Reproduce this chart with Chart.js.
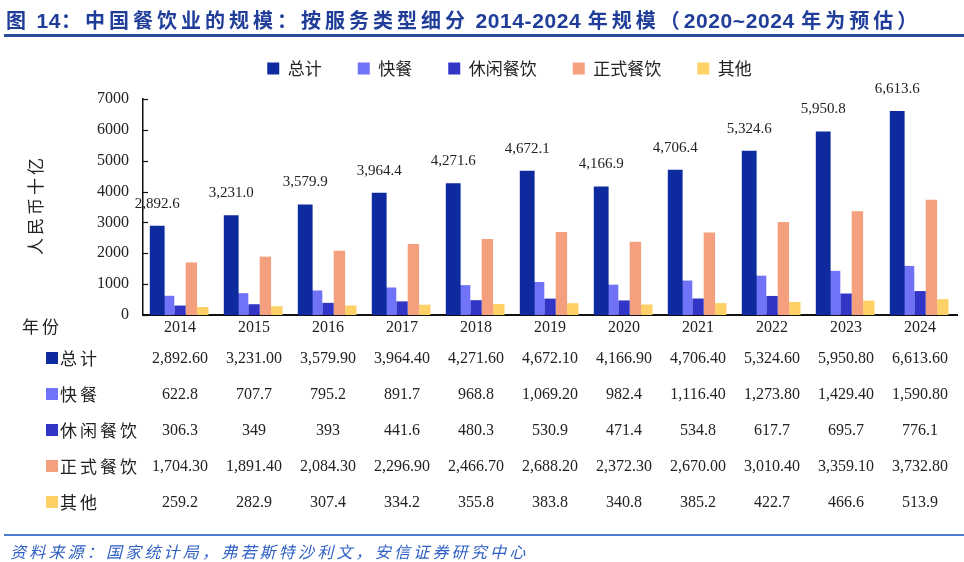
<!DOCTYPE html>
<html lang="zh">
<head>
<meta charset="UTF-8">
<title>中国餐饮业的规模</title>
<script src="https://cdn.jsdelivr.net/npm/chart.js"></script>
<style>
  body { margin: 0; background: #fff; }
  .tela { position: relative; width: 964px; height: 562px; overflow: hidden; }
  .titulo { position: absolute; left: 6px; top: 5px; font: bold 20px "Noto Sans CJK SC", sans-serif; color: #1f3d99; letter-spacing: 4px; white-space: nowrap; }
  .titulo .n { font: bold 21px "Liberation Sans", sans-serif; letter-spacing: 0.6px; }
  .linha_topo { position: absolute; left: 4px; right: 0; top: 34px; height: 3px; background: #2a4a9a; }
  .linha_fim { position: absolute; left: 4px; right: 0; top: 534px; height: 2px; background: #4c7dcb; }
  .fonte { position: absolute; left: 10px; top: 539px; font: italic 16px "Noto Sans CJK SC", sans-serif; color: #2d5fc4; letter-spacing: 3.2px; white-space: nowrap; }
  canvas { position: absolute; left: 0; top: 0; }
</style>
</head>
<body>
<div class="tela">
  <canvas id="grafico" width="964" height="562"></canvas>
  <div class="titulo">图<span class="n"> 14</span>：中国餐饮业的规模：按服务类型细分<span class="n"> 2014-2024 </span>年规模（<span class="n">2020~2024 </span>年为预估）</div>
  <div class="linha_topo"></div>
  <div class="linha_fim"></div>
  <div class="fonte">资料来源：国家统计局，弗若斯特沙利文，安信证券研究中心</div>
</div>
<script>
// dados (人民币十亿)
const anos = ['2014', '2015', '2016', '2017', '2018', '2019', '2020', '2021', '2022', '2023', '2024'];
const series = ['总计', '快餐', '休闲餐饮', '正式餐饮', '其他'];
const total = [2892.6, 3231.0, 3579.9, 3964.4, 4271.6, 4672.1, 4166.9, 4706.4, 5324.6, 5950.8, 6613.6];
const fastFood = [622.8, 707.7, 795.2, 891.7, 968.8, 1069.2, 982.4, 1116.4, 1273.8, 1429.4, 1590.8];
const casual = [306.3, 349, 393, 441.6, 480.3, 530.9, 471.4, 534.8, 617.7, 695.7, 776.1];
const formal = [1704.3, 1891.4, 2084.3, 2296.9, 2466.7, 2688.2, 2372.3, 2670.0, 3010.4, 3359.1, 3732.8];
const outros = [259.2, 282.9, 307.4, 334.2, 355.8, 383.8, 340.8, 385.2, 422.7, 466.6, 513.9];
const yTicks = [0, 1000, 2000, 3000, 4000, 5000, 6000, 7000];

const cores = ['#0d2b9e', '#7073f7', '#3134c4', '#f4a07e', '#fdd166'];
const valores = [total, fastFood, casual, formal, outros];

const serif = '"Liberation Serif", "DejaVu Serif", serif';
const cjk = '"Noto Sans CJK SC", sans-serif';

function fmtTabela(v) {
    if (v >= 1000) {
        return v.toLocaleString('en-US', { minimumFractionDigits: 2, maximumFractionDigits: 2 });
    }
    return String(v);
}

// espaço extra entre legenda e gráfico
const legendaAlta = {
    id: 'legendaAlta',
    beforeInit(chart) {
        const fitOrig = chart.legend.fit;
        chart.legend.fit = function () {
            fitOrig.call(this);
            this.height += 12;
        };
    }
};

// rótulos, tabela e título do eixo
const extras = {
    id: 'extras',
    afterDatasetsDraw(chart) {
        const ctx = chart.ctx;
        const meta = chart.getDatasetMeta(0);
        ctx.save();
        ctx.font = '15px ' + serif;
        ctx.fillStyle = '#222';
        ctx.textAlign = 'center';
        ctx.textBaseline = 'middle';
        meta.data.forEach((bar, i) => {
            const txt = total[i].toLocaleString('en-US', { minimumFractionDigits: 1, maximumFractionDigits: 1 });
            ctx.fillText(txt, bar.x, bar.y - 22);
        });
        ctx.restore();
    },
    afterDraw(chart) {
        const ctx = chart.ctx;
        const x = chart.scales.x;
        const area = chart.chartArea;
        const base = area.bottom;
        ctx.save();
        ctx.textBaseline = 'middle';

        // tracinhos do eixo y, para dentro
        const y = chart.scales.y;
        ctx.strokeStyle = '#111';
        ctx.lineWidth = 1.2;
        yTicks.forEach(v => {
            const py = Math.round(y.getPixelForValue(v)) + 0.5;
            ctx.beginPath();
            ctx.moveTo(area.left, py);
            ctx.lineTo(area.left + 5, py);
            ctx.stroke();
        });

        // título eixo y
        ctx.save();
        ctx.translate(36, 205);
        ctx.rotate(-Math.PI / 2);
        ctx.font = '17px ' + cjk;
        ctx.letterSpacing = '3px';
        ctx.fillStyle = '#222';
        ctx.textAlign = 'center';
        ctx.fillText('人民币十亿', 0, 0);
        ctx.restore();

        ctx.font = '17px ' + cjk;
        ctx.letterSpacing = '3px';
        ctx.fillStyle = '#222';
        ctx.textAlign = 'left';
        ctx.fillText('年份', 22, base + 12);

        for (let r = 0; r < series.length; r++) {
            const py = base + 44 + 36 * r;
            ctx.fillStyle = cores[r];
            ctx.fillRect(46, py - 7, 12, 12);
            ctx.fillStyle = '#222';
            ctx.font = '17px ' + cjk;
            ctx.letterSpacing = '3px';
            ctx.textAlign = 'left';
            ctx.fillText(series[r], 60, py);
            ctx.font = '16px ' + serif;
            ctx.letterSpacing = '0px';
            ctx.textAlign = 'center';
            valores[r].forEach((v, i) => {
                ctx.fillText(fmtTabela(v), x.getPixelForValue(i), py);
            });
        }
        ctx.restore();
    }
};

const ctx = document.getElementById('grafico');

new Chart(ctx, {
    type: 'bar',
    data: {
        labels: anos,
        datasets: series.map((nome, i) => ({
            label: nome,
            data: valores[i],
            backgroundColor: cores[i],
            barPercentage: i === 0 ? 1.3 : 1,
            categoryPercentage: 0.77
        }))
    },
    options: {
        responsive: false,
        animation: false,
        layout: { padding: { left: 62, right: 7, top: 24, bottom: 0 } },
        plugins: {
            legend: {
                position: 'top',
                labels: {
                    boxWidth: 12,
                    boxHeight: 12,
                    padding: 36,
                    color: '#222',
                    font: { family: cjk, size: 17 }
                }
            },
            tooltip: { enabled: false }
        },
        scales: {
            x: {
                grid: { display: false, drawTicks: false },
                border: { color: '#111', width: 2 },
                ticks: { color: '#222', font: { family: serif, size: 16 }, padding: 3, maxRotation: 0 },
                afterFit(s) { s.height = 247; }
            },
            y: {
                min: 0,
                max: 7000,
                grid: { display: false, drawTicks: false },
                border: { color: '#111', width: 1.5 },
                afterBuildTicks(s) { s.ticks = yTicks.map(v => ({ value: v })); },
                ticks: {
                    color: '#222',
                    font: { family: serif, size: 16 },
                    padding: 14,
                    callback: v => String(v)
                },
                afterFit(s) { s.width = 81; }
            }
        }
    },
    plugins: [legendaAlta, extras]
});
</script>
</body>
</html>
